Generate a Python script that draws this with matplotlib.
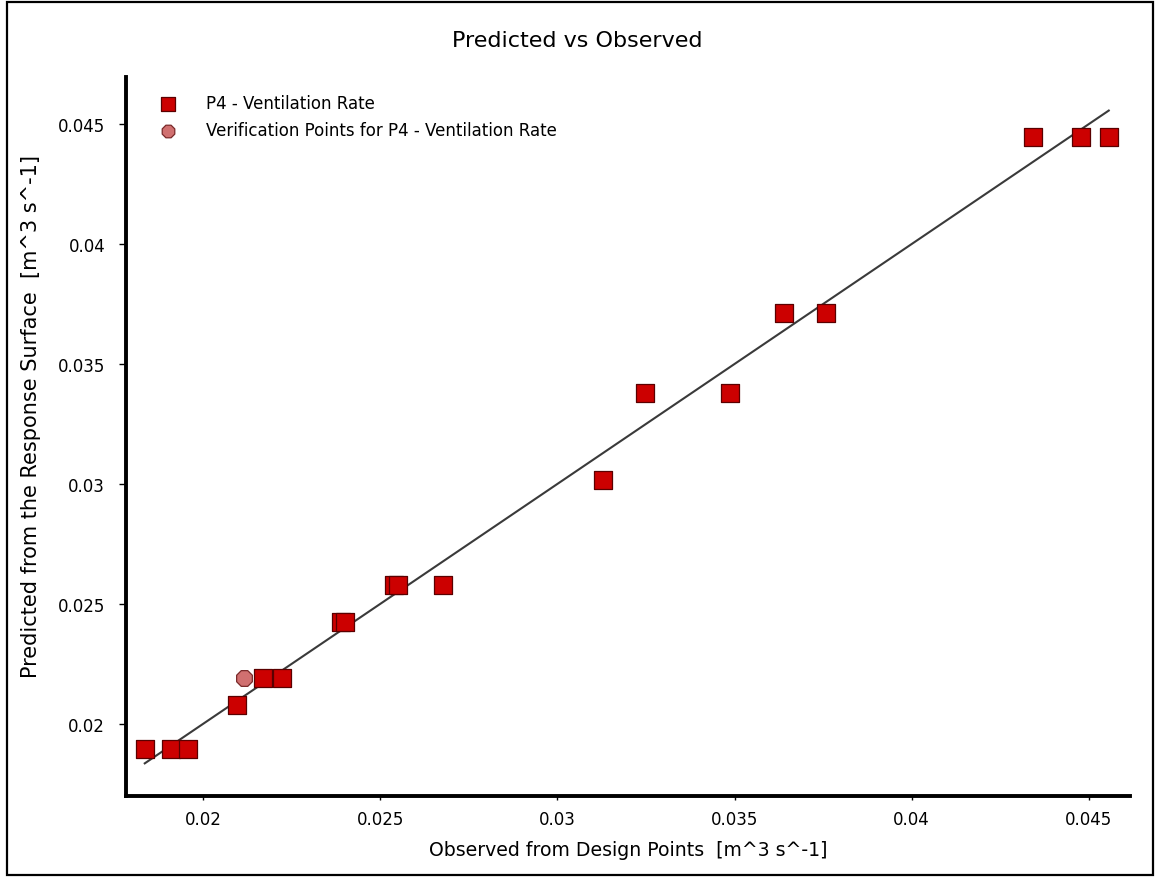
import matplotlib
matplotlib.use("Agg")
import matplotlib.pyplot as plt
from matplotlib.patches import Rectangle

# Design points: observed vs predicted ventilation rate [m^3 s^-1]
observed = [0.01836, 0.01910, 0.01959, 0.02095, 0.02170, 0.02222,
            0.02390, 0.02400, 0.02540, 0.02550, 0.02678, 0.03128,
            0.03247, 0.03487, 0.03640, 0.03758, 0.04341, 0.04479,
            0.04556]
predicted = [0.01897, 0.01897, 0.01897, 0.02080, 0.02190, 0.02190,
             0.02424, 0.02424, 0.02578, 0.02578, 0.02578, 0.03017,
             0.03378, 0.03378, 0.03713, 0.03713, 0.04447, 0.04447,
             0.04447]

# Verification point
verif_observed = [0.02117]
verif_predicted = [0.02190]

xticks = [0.02, 0.025, 0.03, 0.035, 0.04, 0.045]
yticks = [0.02, 0.025, 0.03, 0.035, 0.04, 0.045]
xtick_labels = ["0.02", "0.025", "0.03", "0.035", "0.04", "0.045"]
ytick_labels = ["0.02", "0.025", "0.03", "0.035", "0.04", "0.045"]

plt.rcParams['font.family'] = ['DejaVu Sans']

fig = plt.figure(figsize=(11.59, 8.79), dpi=100)
ax = fig.add_axes([0.1087, 0.0933, 0.975 - 0.1087, 0.9113 - 0.0933])

# Identity line spanning the observed range
lo, hi = min(observed), max(observed)
ax.plot([lo, hi], [lo, hi], color="#3a3a3a", lw=1.5, zorder=2)

ax.scatter(observed, predicted, marker="s", s=155, color="#cc0000",
           edgecolors="#5a0000", linewidths=0.9, zorder=3,
           label="P4 - Ventilation Rate")
ax.scatter(verif_observed, verif_predicted, marker="8", s=150,
           color="#d07070", edgecolors="#7a2a2a", linewidths=0.9, zorder=4,
           label="Verification Points for P4 - Ventilation Rate")

ax.set_xlim(0.01783, 0.04616)
ax.set_ylim(0.0170, 0.04696)
ax.set_xticks(xticks)
ax.set_xticklabels(xtick_labels)
ax.set_yticks(yticks)
ax.set_yticklabels(ytick_labels)

for side in ("top", "right"):
    ax.spines[side].set_visible(False)
for side in ("left", "bottom"):
    ax.spines[side].set_linewidth(2.8)
    ax.spines[side].set_color("black")

ax.tick_params(axis="both", direction="out", width=1, labelsize=12,
               colors="black")
ax.tick_params(axis="y", length=5, pad=10)
ax.tick_params(axis="x", length=3, pad=7)

ax.set_xlabel("Observed from Design Points  [m^3 s^-1]", fontsize=13.6,
              labelpad=9)
ax.set_ylabel("Predicted from the Response Surface  [m^3 s^-1]",
              fontsize=15)
ax.yaxis.set_label_coords(-0.0845, 0.529)
fig.text(0.498, 0.953, "Predicted vs Observed", ha="center", va="center",
         fontsize=16)

leg = ax.legend(loc="upper left", frameon=False, fontsize=12,
                bbox_to_anchor=(0.010, 0.997), handletextpad=1.3,
                labelspacing=0.55, markerscale=0.8)

# Outer frame around the whole figure
fig.patches.append(Rectangle((7 / 1159, 3 / 879), 1146 / 1159, 873 / 879,
                             transform=fig.transFigure, fill=False,
                             edgecolor="black", linewidth=1.6))

fig.savefig("out.png", dpi=100)
